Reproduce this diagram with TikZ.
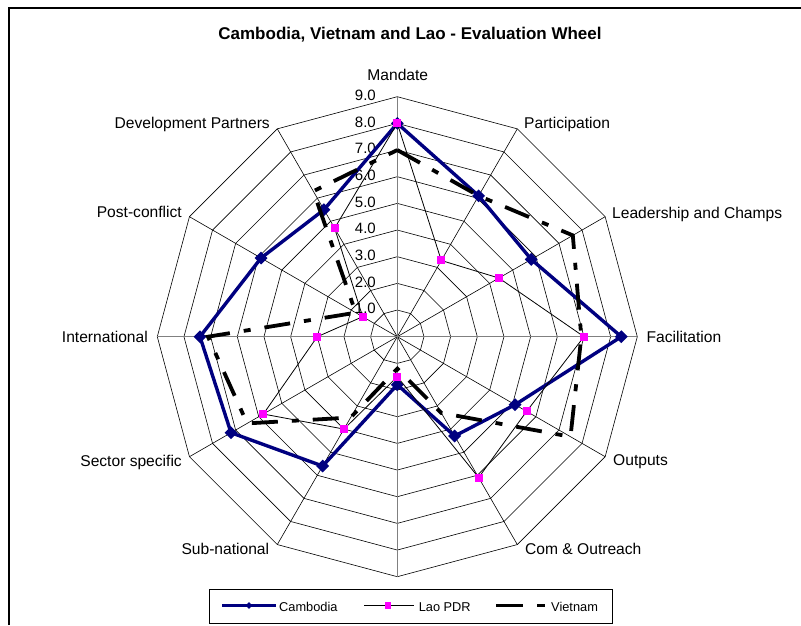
\documentclass[tikz,border=0pt]{standalone}
\usepackage{fontspec}
\setmainfont{Liberation Sans}
\usetikzlibrary{shapes.geometric}
\definecolor{navyc}{RGB}{0,0,128}
\definecolor{magc}{RGB}{255,0,255}
\definecolor{axgray}{RGB}{128,128,128}
\begin{document}
\begin{tikzpicture}[x=1pt,y=-1pt,
  gridline/.style={black,line width=0.6pt},
  axisline/.style={axgray,line width=1pt},
  lbl/.style={font=\fontsize{15.6}{18}\selectfont,inner sep=0pt},
  ticklbl/.style={font=\fontsize{15}{18}\selectfont,inner sep=0pt,anchor=east},
  leglbl/.style={font=\fontsize{12.8}{15}\selectfont,inner sep=0pt,anchor=base west},
  camline/.style={navyc,line width=3.4pt,line join=round},
  laoline/.style={black,line width=0.8pt},
  vietline/.style={black,line width=3.8pt,dash pattern=on 26pt off 14pt on 7pt off 14pt},
  camdot/.style={diamond,fill=navyc,inner sep=0pt,minimum width=13pt,minimum height=13pt},
  laodot/.style={rectangle,fill=magc,inner sep=0pt,minimum size=8pt},
]
\useasboundingbox (0,0) rectangle (801,625);
\fill[white] (0,0) rectangle (801,625);
% frame
\draw[black,line width=1.5pt] (9,625) -- (9,8) -- (801,8);
% title
\node[font=\bfseries\fontsize{17}{20}\selectfont,inner sep=0pt,anchor=base] (title) at (410,39) {Cambodia, Vietnam and Lao - Evaluation Wheel};

\begin{scope}[shift={(397.3,336.7)}]
  % rings
  \foreach \k in {1,...,9} {
    \draw[gridline] (-90:\k*26.667) \foreach \i in {1,...,11} { -- (-90+30*\i:\k*26.667) } -- cycle;
  }
  % spokes
  \foreach \i in {1,2,4,5,7,8,10,11} {
    \draw[gridline] (0,0) -- (-90+30*\i:240);
  }
  \draw[axisline] (-90:240) -- (90:240);
  \draw[axisline] (180:240) -- (0:240);
  % tick labels
  \foreach \k in {1,...,9} {
    \node[ticklbl] (t\k) at (-21.3,-\k*26.667-1.5) {\k.0};
  }
  % data coordinates
  \foreach \v [count=\i from 0] in {8.0,6.1,5.8,8.4,5.1,4.3,1.8,5.6,7.2,7.4,5.9,5.5} {
    \coordinate (C\i) at (-90+30*\i:\v*26.667);
  }
  \foreach \v [count=\i from 0] in {8.0,3.3,4.4,7.0,5.6,6.1,1.5,4.0,5.8,3.0,1.5,4.7} {
    \coordinate (L\i) at (-90+30*\i:\v*26.667);
  }
  \foreach \v [count=\i from 0] in {7.0,6.1,7.6,6.9,7.5,3.3,1.2,3.5,6.5,7.1,1.8,6.3} {
    \coordinate (V\i) at (-90+30*\i:\v*26.667);
  }
  % Cambodia
  \draw[camline] (C0) -- (C1) -- (C2) -- (C3) -- (C4) -- (C5) -- (C6) -- (C7) -- (C8) -- (C9) -- (C10) -- (C11) -- cycle;
  \foreach \i in {0,...,11} { \node[camdot] (cm\i) at (C\i) {}; }
  % Lao PDR
  \draw[laoline] (L0) -- (L1) -- (L2) -- (L3) -- (L4) -- (L5) -- (L6) -- (L7) -- (L8) -- (L9) -- (L10) -- (L11) -- cycle;
  \foreach \i in {0,...,11} { \node[laodot] (lm\i) at (L\i) {}; }
  % Vietnam
  \draw[vietline] (V0) -- (V1) -- (V2) -- (V3) -- (V4) -- (V5) -- (V6) -- (V7) -- (V8) -- (V9) -- (V10) -- (V11) -- cycle;
\end{scope}

% category labels
\node[lbl,anchor=base] (mandate) at (397.8,80.5) {Mandate};
\node[lbl,anchor=base west] (particip) at (524,128.5) {Participation};
\node[lbl,anchor=base west] (leader) at (612,218.5) {Leadership and Champs};
\node[lbl,anchor=base west] (facil) at (646.5,342) {Facilitation};
\node[lbl,anchor=base west] (outputs) at (613,465.5) {Outputs};
\node[lbl,anchor=base west] (comout) at (525,554) {Com \& Outreach};
\node[lbl,anchor=base east] (subnat) at (269.3,554) {Sub-national};
\node[lbl,anchor=base east] (sector) at (182,466.5) {Sector specific};
\node[lbl,anchor=base east] (intl) at (148,342) {International};
\node[lbl,anchor=base east] (postc) at (182,217.5) {Post-conflict};
\node[lbl,anchor=base east] (devp) at (270,128) {Development Partners};

% legend
\draw[black,line width=0.9pt] (209.5,589.5) rectangle (612,623.4);
\coordinate (lc1) at (222,605.5); \coordinate (lc2) at (276,605.5);
\draw[navyc,line width=2.6pt] (lc1) -- (lc2);
\node[diamond,fill=navyc,inner sep=0pt,minimum width=7pt,minimum height=7pt] (lcm) at (249,605.5) {};
\node[leglbl] (lct) at (279,611) {Cambodia};
\coordinate (ll1) at (364,605.5); \coordinate (ll2) at (414,605.5);
\draw[black,line width=0.8pt] (ll1) -- (ll2);
\node[rectangle,fill=magc,inner sep=0pt,minimum size=6.5pt] (llm) at (388,605.5) {};
\node[leglbl] (llt) at (418.6,611) {Lao PDR};
\coordinate (lv1) at (496,605.5); \coordinate (lv2) at (545,605.5);
\draw[black,line width=3.8pt,dash pattern=on 27pt off 14pt on 8pt off 14pt] (lv1) -- (lv2);
\node[leglbl] (lvt) at (551,611) {Vietnam};
\end{tikzpicture}
\end{document}
